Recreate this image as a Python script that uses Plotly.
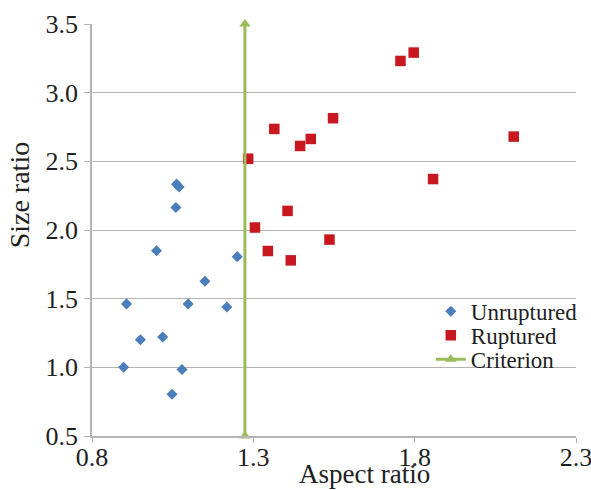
import plotly.graph_objects as go

# Unruptured aneurysms: aspect ratio vs size ratio
unruptured_x = [1.062, 1.070, 1.060, 1.000, 1.250, 1.150, 0.907, 1.098, 1.218,
                0.950, 1.019, 0.898, 1.079, 1.048]
unruptured_y = [2.334, 2.314, 2.164, 1.849, 1.806, 1.627, 1.462, 1.462, 1.440,
                1.201, 1.221, 1.000, 0.984, 0.804]

# Ruptured aneurysms
ruptured_x = [1.284, 1.365, 1.445, 1.478, 1.547, 1.756, 1.797, 2.107, 1.857,
              1.406, 1.305, 1.345, 1.416, 1.536]
ruptured_y = [2.519, 2.736, 2.612, 2.663, 2.814, 3.231, 3.292, 2.680, 2.371,
              2.139, 2.018, 1.847, 1.779, 1.930]

# Aspect-ratio threshold drawn across the full size-ratio range
criterion_x = [1.274, 1.274]
criterion_y = [0.5, 3.5]

x_ticks = [0.8, 1.3, 1.8, 2.3]
y_ticks = [0.5, 1.0, 1.5, 2.0, 2.5, 3.0, 3.5]

SERIF = "Liberation Serif"
GRID = "#b4b4b4"
TEXT = "#1e1e1e"

fig = go.Figure()
fig.add_trace(go.Scatter(
    x=unruptured_x, y=unruptured_y, mode="markers", name="Unruptured",
    marker=dict(symbol="diamond", size=8.5, color="#4a7ebb"),
))
fig.add_trace(go.Scatter(
    x=ruptured_x, y=ruptured_y, mode="markers", name="Ruptured",
    marker=dict(symbol="square", size=10.5, color="#c9171f"),
))
fig.add_trace(go.Scatter(
    x=criterion_x, y=criterion_y, mode="lines+markers", name="Criterion",
    line=dict(color="#9bbb59", width=3),
    marker=dict(symbol="triangle-up", size=10, color="#9bbb59"),
    cliponaxis=False,
))

fig.update_layout(
    width=591, height=490,
    margin=dict(l=92, r=15, t=24, b=54, autoexpand=False),
    paper_bgcolor="white", plot_bgcolor="white",
    font=dict(family=SERIF, size=26, color=TEXT),
    showlegend=True,
    legend=dict(
        x=0.70, y=0.355, xanchor="left", yanchor="top",
        font=dict(family=SERIF, size=23, color=TEXT),
        bgcolor="rgba(0,0,0,0)", itemwidth=30,
    ),
)

fig.update_xaxes(
    range=[0.8, 2.3], tickvals=x_ticks, ticktext=[f"{v:.1f}" for v in x_ticks],
    showgrid=False, zeroline=False, automargin=False,
    showline=True, linecolor=GRID, linewidth=1.5,
    ticks="outside", ticklen=5, tickcolor=GRID, tickwidth=1.2,
    ticklabelstandoff=-8, ticklabeloverflow="allow",
    tickfont=dict(family=SERIF, size=26, color=TEXT),
)
fig.update_yaxes(
    range=[0.5, 3.5], tickvals=y_ticks, ticktext=[f"{v:.1f}" for v in y_ticks],
    showgrid=True, gridcolor=GRID, gridwidth=1.4, zeroline=False, automargin=False,
    showline=True, linecolor=GRID, linewidth=1.5,
    ticks="outside", ticklen=6, tickcolor=GRID, tickwidth=1.2,
    ticklabelstandoff=1, ticklabeloverflow="allow",
    tickfont=dict(family=SERIF, size=26, color=TEXT),
)

fig.add_annotation(
    text="Aspect ratio", xref="paper", yref="paper", x=0.564, y=-0.092,
    xanchor="center", yanchor="middle", showarrow=False,
    font=dict(family=SERIF, size=27, color=TEXT),
)
fig.add_annotation(
    text="Size ratio", xref="paper", yref="paper", x=-0.148, y=0.585,
    xanchor="center", yanchor="middle", textangle=-90, showarrow=False,
    font=dict(family=SERIF, size=28, color=TEXT),
)

# Tighten the vertical spacing of the legend rows once the plot is drawn
legend_js = """
var rows = document.querySelectorAll('.legend .traces');
if (rows.length) {
  var m = /translate\\(\\s*([-\\d.]+)[ ,]+([-\\d.]+)/.exec(rows[0].getAttribute('transform'));
  var x0 = m ? parseFloat(m[1]) : 0, y0 = m ? parseFloat(m[2]) : 0;
  rows.forEach(function (r, i) {
    r.setAttribute('transform', 'translate(' + x0 + ',' + (y0 + i * 24) + ')');
  });
}
"""

fig.write_html("out.html", post_script=legend_js)
